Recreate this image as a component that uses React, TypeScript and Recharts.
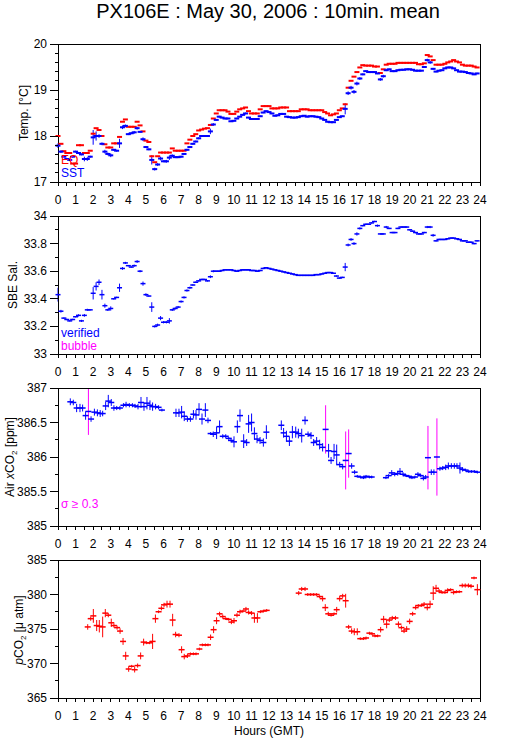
import React from "react";
import { ComposedChart, Scatter, XAxis, YAxis, ErrorBar } from "recharts";

const FONT = '"Liberation Sans", Arial, Helvetica, sans-serif';
const BLUE = "#0000ff";
const RED = "#ff0000";
const MAGENTA = "#ff00ff";

// 10 minute means, 00:00 .. 23:50 GMT (one row per hour)
const sst = [
  17.79, 17.66, 17.55, 17.5, 17.48, 17.55,
  17.66, 17.63, 17.6, 17.5, 17.5, 17.55,
  17.97, 18.0, 18.0, 17.83, 17.66, 17.61,
  17.58, 17.7, 17.68, 17.84, 18.19, 18.22,
  18.04, 18.06, 18.08, 18.17, 18.09, 17.93,
  17.76, 17.71, 17.48, 17.28, 17.38, 17.51,
  17.45, 17.45, 17.53, 17.57, 17.54, 17.54,
  17.55, 17.61, 17.7, 17.76, 17.83, 17.88,
  17.95, 18.0, 18.0, 18.0, 18.1, 18.25,
  18.35, 18.42, 18.4, 18.38, 18.38, 18.32,
  18.33, 18.38, 18.42, 18.46, 18.49, 18.4,
  18.37, 18.37, 18.37, 18.43, 18.51, 18.54,
  18.52, 18.49, 18.44, 18.45, 18.48, 18.48,
  18.42, 18.41, 18.4, 18.4, 18.41, 18.43,
  18.44, 18.42, 18.43, 18.43, 18.42, 18.41,
  18.38, 18.35, 18.31, 18.3, 18.3, 18.35,
  18.41, 18.43, 18.59, 18.93, 19.05, 18.96,
  19.14, 19.25, 19.34, 19.41, 19.39, 19.39,
  19.39, 19.36, 19.23, 19.3, 19.43, 19.45,
  19.41, 19.41, 19.43, 19.44, 19.44, 19.45,
  19.45, 19.44, 19.42, 19.42, 19.42, 19.5,
  19.65, 19.6, 19.46, 19.4, 19.42, 19.43,
  19.47, 19.49, 19.49, 19.47, 19.43, 19.4,
  19.4, 19.39, 19.37, 19.36, 19.34, 19.36,
];

const sstSd = [
  0.05, 0.03, 0.02, 0.02, 0.02, 0.02,
  0.02, 0.02, 0.02, 0.05, 0.04, 0.02,
  0.16, 0.1, 0.04, 0.03, 0.04, 0.03,
  0.04, 0.02, 0.02, 0.1, 0.04, 0.03,
  0.02, 0.02, 0.03, 0.03, 0.02, 0.04,
  0.02, 0.02, 0.1, 0.03, 0.03, 0.04,
  0.02, 0.03, 0.05, 0.03, 0.02, 0.02,
  0.02, 0.02, 0.02, 0.02, 0.02, 0.02,
  0.02, 0.02, 0.02, 0.02, 0.06, 0.03,
  0.02, 0.02, 0.015, 0.015, 0.015, 0.015,
  0.015, 0.015, 0.015, 0.02, 0.02, 0.015,
  0.015, 0.015, 0.015, 0.015, 0.015, 0.015,
  0.015, 0.015, 0.015, 0.015, 0.015, 0.015,
  0.015, 0.015, 0.015, 0.015, 0.015, 0.015,
  0.015, 0.015, 0.015, 0.015, 0.015, 0.015,
  0.015, 0.015, 0.015, 0.015, 0.015, 0.015,
  0.015, 0.015, 0.12, 0.04, 0.04, 0.04,
  0.04, 0.03, 0.02, 0.015, 0.015, 0.015,
  0.015, 0.015, 0.03, 0.03, 0.02, 0.015,
  0.015, 0.015, 0.015, 0.015, 0.015, 0.015,
  0.015, 0.015, 0.015, 0.015, 0.015, 0.02,
  0.03, 0.03, 0.02, 0.015, 0.015, 0.015,
  0.015, 0.015, 0.015, 0.015, 0.015, 0.015,
  0.015, 0.015, 0.015, 0.015, 0.015, 0.015,
];

const eqTemp = [
  18.0, 17.83, 17.67, 17.63, 17.63, 17.4,
  17.4, 17.8, 17.8, 17.63, 17.63, 17.68,
  18.05, 18.17, 18.13, 18.0, 17.82, 17.75,
  17.75, 17.84, 17.84, 17.98, 18.31, 18.36,
  18.2, 18.2, 18.2, 18.31, 18.23, 18.1,
  17.9, 17.87, 17.56, 17.43, 17.56, 17.64,
  17.64, 17.64, 17.64, 17.73, 17.68, 17.68,
  17.68, 17.68, 17.84, 17.92, 18.0, 18.04,
  18.12, 18.14, 18.16, 18.17, 18.24, 18.38,
  18.49, 18.56, 18.56, 18.56, 18.53, 18.48,
  18.48, 18.53, 18.58, 18.6, 18.62, 18.54,
  18.49, 18.49, 18.49, 18.58, 18.65, 18.65,
  18.65, 18.6, 18.6, 18.6, 18.62, 18.62,
  18.62, 18.54, 18.54, 18.54, 18.54, 18.58,
  18.58, 18.58, 18.56, 18.56, 18.56, 18.56,
  18.56, 18.52, 18.49, 18.45, 18.47, 18.49,
  18.56, 18.6, 18.69, 19.05, 19.2, 19.29,
  19.39, 19.49, 19.54, 19.53, 19.53, 19.53,
  19.51, 19.51, 19.37, 19.45, 19.55, 19.57,
  19.57, 19.57, 19.59, 19.59, 19.59, 19.59,
  19.59, 19.59, 19.59, 19.56, 19.56, 19.58,
  19.76, 19.73, 19.65, 19.55, 19.55, 19.55,
  19.57, 19.6, 19.62, 19.65, 19.62, 19.6,
  19.55, 19.53, 19.53, 19.53, 19.51, 19.49,
];

const salinity = [
  33.43, 33.31, 33.26, 33.25, 33.24, 33.25,
  33.27, 33.28, 33.24, 33.28, 33.32, 33.32,
  33.44, 33.49, 33.52, 33.43, 33.35, 33.32,
  33.33, 33.4, 33.41, 33.48, 33.62, 33.66,
  33.64, 33.63, 33.64, 33.67, 33.6, 33.51,
  33.43, 33.42, 33.34, 33.2, 33.21, 33.26,
  33.23, 33.23, 33.24, 33.32, 33.33, 33.34,
  33.38, 33.41, 33.46, 33.48, 33.5, 33.52,
  33.53, 33.54, 33.54, 33.53, 33.56, 33.6,
  33.6, 33.6, 33.605, 33.61, 33.61, 33.61,
  33.605, 33.6, 33.605, 33.61, 33.61, 33.61,
  33.605, 33.605, 33.6, 33.605, 33.62, 33.625,
  33.62, 33.615, 33.61, 33.605, 33.6, 33.595,
  33.59, 33.585, 33.58, 33.575, 33.57, 33.57,
  33.57, 33.57, 33.57, 33.57, 33.575, 33.575,
  33.58, 33.585, 33.59, 33.59, 33.585, 33.565,
  33.55, 33.555, 33.63, 33.79, 33.83, 33.8,
  33.87, 33.91, 33.93, 33.94, 33.94, 33.95,
  33.96, 33.93, 33.87, 33.87, 33.92, 33.91,
  33.88, 33.88, 33.91, 33.92, 33.92, 33.92,
  33.9, 33.89, 33.88, 33.87, 33.87, 33.88,
  33.92, 33.92, 33.86, 33.82, 33.83, 33.83,
  33.83, 33.835, 33.84, 33.84, 33.835, 33.83,
  33.82, 33.82, 33.81, 33.81, 33.8, 33.82,
];

const salinitySd = [
  0.05, 0.01, 0.005, 0.005, 0.005, 0.005,
  0.005, 0.008, 0.008, 0.01, 0.008, 0.005,
  0.045, 0.03, 0.02, 0.035, 0.015, 0.008,
  0.015, 0.005, 0.005, 0.03, 0.01, 0.008,
  0.005, 0.005, 0.008, 0.01, 0.008, 0.015,
  0.01, 0.005, 0.035, 0.008, 0.01, 0.015,
  0.008, 0.008, 0.02, 0.008, 0.008, 0.008,
  0.008, 0.008, 0.008, 0.008, 0.005, 0.005,
  0.005, 0.005, 0.005, 0.005, 0.01, 0.008,
  0.005, 0.005, 0.005, 0.005, 0.005, 0.005,
  0.005, 0.005, 0.005, 0.005, 0.005, 0.005,
  0.005, 0.005, 0.005, 0.005, 0.005, 0.005,
  0.005, 0.005, 0.005, 0.005, 0.005, 0.005,
  0.005, 0.005, 0.005, 0.005, 0.005, 0.005,
  0.005, 0.005, 0.005, 0.005, 0.005, 0.005,
  0.005, 0.005, 0.005, 0.005, 0.005, 0.005,
  0.005, 0.005, 0.03, 0.01, 0.01, 0.01,
  0.012, 0.008, 0.005, 0.005, 0.005, 0.005,
  0.005, 0.008, 0.005, 0.005, 0.008, 0.005,
  0.005, 0.005, 0.005, 0.005, 0.005, 0.005,
  0.005, 0.005, 0.005, 0.005, 0.005, 0.005,
  0.008, 0.008, 0.01, 0.005, 0.005, 0.005,
  0.005, 0.005, 0.005, 0.005, 0.005, 0.005,
  0.005, 0.005, 0.005, 0.005, 0.005, 0.005,
];

// atmospheric xCO2 samples
const airHours = [
  0.7, 0.87, 1.06, 1.25, 1.4, 1.57, 1.73, 1.88, 2.07, 2.24, 2.4, 2.54, 2.71,
  2.86, 3.03, 3.18, 3.34, 3.52, 3.72, 3.87, 4.06, 4.23, 4.38, 4.55, 4.72, 4.89,
  5.06, 5.23, 5.38, 5.55, 5.72, 5.91,
  6.71, 6.88, 7.03, 7.18, 7.36, 7.53, 7.7, 7.85, 8.02, 8.19, 8.38, 8.53, 8.68,
  8.83, 9.02, 9.19, 9.37, 9.54, 9.71, 9.84, 10.01, 10.2, 10.35, 10.56, 10.73,
  10.84, 11.01, 11.17, 11.32, 11.49, 11.68, 11.85,
  12.7, 12.83, 12.99, 13.16, 13.33, 13.52, 13.67, 13.86, 14.05, 14.22, 14.39,
  14.54, 14.71, 14.88, 15.05, 15.22, 15.39, 15.53, 15.7, 15.85, 16.02, 16.19,
  16.36, 16.53, 16.7, 16.87, 17.02, 17.21, 17.37, 17.52, 17.71, 17.84,
  18.65, 18.8, 18.98, 19.15, 19.32, 19.45, 19.62, 19.79, 19.96, 20.13, 20.3,
  20.47, 20.63, 20.78, 20.91, 21.04, 21.23, 21.38, 21.55, 21.72, 21.88, 22.05,
  22.2, 22.37, 22.54, 22.69, 22.86, 23.01, 23.18, 23.36, 23.51, 23.68, 23.85,
];
const airXco2 = [
  386.8, 386.79, 386.71, 386.71, 386.71, 386.6, 386.66, 386.55, 386.65, 386.64,
  386.63, 386.63, 386.74, 386.81, 386.79, 386.71, 386.71, 386.71, 386.75,
  386.76, 386.75, 386.75, 386.74, 386.73, 386.79, 386.73, 386.78, 386.75,
  386.73, 386.73, 386.72, 386.68,
  386.64, 386.64, 386.65, 386.59, 386.55, 386.55, 386.62, 386.61, 386.69,
  386.55, 386.68, 386.53, 386.34, 386.33, 386.35, 386.44, 386.3, 386.3,
  386.27, 386.24, 386.22, 386.44, 386.6, 386.23, 386.21, 386.48, 386.5,
  386.34, 386.26, 386.24, 386.21, 386.36,
  386.46, 386.35, 386.3, 386.23, 386.36, 386.36, 386.34, 386.31, 386.53,
  386.33, 386.31, 386.21, 386.23, 386.18, 386.14, 386.4, 386.09, 385.95,
  386.08, 386.03, 385.89, 385.86, 385.95, 386.05, 385.87, 385.78, 385.72,
  385.71, 385.7, 385.72, 385.71, 385.71,
  385.7, 385.73, 385.77, 385.75, 385.76, 385.79, 385.75, 385.73, 385.72,
  385.7, 385.71, 385.75, 385.73, 385.69, 385.71, 385.99, 385.78, 385.78,
  386.0, 385.83, 385.84, 385.85, 385.87, 385.87, 385.87, 385.87, 385.84,
  385.82, 385.81, 385.79, 385.79, 385.79, 385.78,
];
const airSd = [
  0.05, 0.04, 0.06, 0.06, 0.05, 0.06, 0.34, 0.04, 0.05, 0.05, 0.05, 0.04, 0.06,
  0.09, 0.05, 0.04, 0.03, 0.03, 0.03, 0.04, 0.03, 0.03, 0.03, 0.04, 0.08, 0.06,
  0.09, 0.07, 0.06, 0.04, 0.03, 0.02,
  0.06, 0.06, 0.09, 0.07, 0.04, 0.04, 0.06, 0.07, 0.09, 0.08, 0.1, 0.04, 0.02,
  0.04, 0.09, 0.09, 0.03, 0.03, 0.02, 0.03, 0.08, 0.09, 0.09, 0.1, 0.05, 0.13,
  0.13, 0.09, 0.06, 0.05, 0.06, 0.1,
  0.07, 0.07, 0.08, 0.07, 0.09, 0.08, 0.07, 0.1, 0.06, 0.04, 0.05, 0.05, 0.06,
  0.07, 0.06, 0.35, 0.1, 0.05, 0.11, 0.15, 0.04, 0.04, 0.42, 0.35, 0.04, 0.03,
  0.02, 0.02, 0.02, 0.02, 0.02, 0.02,
  0.02, 0.02, 0.04, 0.03, 0.03, 0.05, 0.03, 0.02, 0.02, 0.02, 0.02, 0.03, 0.02,
  0.03, 0.03, 0.46, 0.04, 0.04, 0.56, 0.03, 0.03, 0.04, 0.05, 0.04, 0.04, 0.04,
  0.08, 0.03, 0.02, 0.02, 0.02, 0.02, 0.02,
];

// seawater pCO2 samples
const pco2Hours = [
  1.69, 1.86, 2.01, 2.2, 2.35, 2.54, 2.69, 2.86, 3.03, 3.18, 3.36, 3.53, 3.7,
  3.85, 4.02, 4.19, 4.36, 4.53, 4.7, 4.87, 5.04, 5.21, 5.38, 5.54, 5.72, 5.88,
  6.03, 6.2, 6.37, 6.52, 6.69, 6.88, 7.03, 7.18, 7.36, 7.53, 7.7, 7.85, 8.04,
  8.21, 8.38, 8.53, 8.68, 8.85, 9.02, 9.19, 9.37, 9.54, 9.71, 9.86, 10.01,
  10.18, 10.35, 10.52, 10.69, 10.84, 11.01, 11.17, 11.34, 11.51, 11.68, 11.87,
  13.69, 13.86, 14.05, 14.2, 14.37, 14.54, 14.71, 14.88, 15.05, 15.2, 15.37,
  15.53, 15.7, 15.85, 16.02, 16.19, 16.36, 16.53, 16.7, 16.85, 17.02, 17.19,
  17.37, 17.52, 17.71, 17.86, 18.03, 18.18, 18.35, 18.52, 18.69, 18.84, 19.01,
  19.19, 19.36, 19.53, 19.68, 19.83, 20.0, 20.17, 20.34, 20.49, 20.66, 20.82,
  21.0, 21.16, 21.34, 21.5, 21.67, 21.84, 22.01, 22.16, 22.33, 22.5, 22.67,
  22.82, 22.99, 23.16, 23.34, 23.49, 23.66, 23.85,
];
const pco2 = [
  375.3, 376.5, 376.9, 375.5, 375.4, 375.3, 377.3, 377.0, 375.9, 375.5, 375.2,
  374.7, 373.2, 371.1, 369.2, 369.6, 369.1, 369.7, 371.1, 373.1, 373.0, 373.0,
  373.2, 376.5, 377.5, 378.0, 378.5, 378.6, 378.6, 376.3, 374.2, 374.1, 372.0,
  371.0, 371.1, 371.4, 371.4, 371.4, 372.1, 372.7, 372.7, 372.7, 373.8, 374.9,
  376.2, 377.2, 376.8, 376.5, 376.4, 376.0, 376.2, 377.0, 377.5, 377.6, 377.9,
  377.4, 377.3, 376.6, 376.6, 377.5, 377.6, 377.7,
  380.2, 380.8, 380.8, 380.0, 380.0, 380.0, 380.0, 379.7, 379.4, 378.1, 377.2,
  377.0, 377.2, 377.8, 379.4, 379.8, 379.1, 375.3, 374.7, 374.6, 374.6, 373.6,
  373.6, 373.7, 374.4, 374.3, 374.0, 374.0, 374.9, 376.4, 375.7, 376.3, 376.6,
  376.6, 375.7, 375.2, 374.7, 375.0, 376.1, 377.2, 378.1, 378.4, 378.4, 378.6,
  378.1, 378.6, 380.2, 380.9, 380.5, 380.3, 380.3, 380.6, 380.7, 380.3, 380.4,
  380.4, 381.3, 381.3, 381.3, 381.2, 382.4, 380.7,
];
const pco2Sd = [
  0.4, 0.3, 1.0, 0.8, 0.9, 1.5, 0.6, 0.3, 0.6, 0.3, 0.3, 0.4, 0.5, 0.6, 0.4,
  0.2, 0.4, 0.3, 0.5, 0.5, 0.2, 0.2, 1.1, 0.6, 0.2, 0.3, 0.3, 0.5, 0.5, 0.9,
  0.4, 0.3, 0.5, 0.4, 0.3, 0.2, 0.2, 0.2, 0.2, 0.2, 0.2, 0.2, 0.4, 0.5, 0.5,
  0.3, 0.3, 0.2, 0.2, 0.3, 0.4, 0.3, 0.3, 0.2, 0.3, 0.3, 0.3, 0.7, 0.7, 0.2,
  0.2, 0.2,
  0.3, 0.3, 0.3, 0.2, 0.2, 0.2, 0.2, 0.2, 0.4, 0.5, 0.3, 0.2, 0.2, 0.4, 0.4,
  0.3, 1.0, 0.3, 0.4, 0.5, 0.5, 0.2, 0.2, 0.2, 0.2, 0.2, 0.2, 0.2, 0.4, 0.5,
  0.6, 0.3, 0.3, 0.3, 0.4, 0.3, 0.3, 0.4, 0.4, 0.3, 0.3, 0.2, 0.2, 0.3, 0.4,
  0.5, 1.0, 0.5, 0.3, 0.2, 0.2, 0.3, 0.2, 0.3, 0.2, 0.2, 0.3, 0.3, 0.3, 0.3,
  0.2, 0.8,
];

const hourTicks = Array.from({ length: 49 }, (_, i) => i / 2);
const tempTicks = [17, 17.2, 17.4, 17.6, 17.8, 18, 18.2, 18.4, 18.6, 18.8, 19, 19.2, 19.4, 19.6, 19.8, 20];
const tempMajor = [17, 18, 19, 20];
const salTicks = [33, 33.1, 33.2, 33.3, 33.4, 33.5, 33.6, 33.7, 33.8, 33.9, 34];
const salMajor = [33, 33.2, 33.4, 33.6, 33.8, 34];
const airTicks = [385, 385.25, 385.5, 385.75, 386, 386.25, 386.5, 386.75, 387];
const airMajor = [385, 385.5, 386, 386.5, 387];
const pco2Ticks = [365, 367.5, 370, 372.5, 375, 377.5, 380, 382.5, 385];
const pco2Major = [365, 370, 375, 380, 385];

const tenMinRows = (vals: number[], sd?: number[]) =>
  vals.map((v, i) => ({ h: i / 6, v, e: sd ? sd[i] : 0 }));
const sampleRows = (hrs: number[], vals: number[], sd: number[]) =>
  hrs.map((h, i) => ({ h, v: vals[i], e: sd[i] }));

const sstRows = tenMinRows(sst, sstSd);
const eqRows = tenMinRows(eqTemp);
const salRows = tenMinRows(salinity, salinitySd);
const airAll = sampleRows(airHours, airXco2, airSd);
const airOk = airAll.filter((r) => r.e < 0.3);
const airHigh = airAll.filter((r) => r.e >= 0.3);
const pco2Rows = sampleRows(pco2Hours, pco2, pco2Sd);

const dash = (color: string, half: number, sw: number) => (p: any) =>
  p.cx == null ? (
    <g />
  ) : (
    <line x1={p.cx - half} x2={p.cx + half} y1={p.cy} y2={p.cy} stroke={color} strokeWidth={sw} />
  );

const PLOT_H = 138;
const TOP_PAD = 10;
const BOTTOM_PAD = 30;

function Panel({
  top,
  domain,
  ticks,
  major,
  children,
}: {
  top: number;
  domain: [number, number];
  ticks: number[];
  major: number[];
  children: React.ReactNode;
}) {
  const yLeft = (p: any) => {
    const v = p.payload.value;
    const big = major.includes(v);
    return (
      <g>
        <line x1={p.x} x2={p.x - (big ? 8 : 3)} y1={p.y} y2={p.y} stroke="#000" shapeRendering="crispEdges" />
        {big && (
          <text x={p.x - 11} y={p.y + 4} textAnchor="end" fontSize={12} fontFamily={FONT} fill="#000">
            {String(v)}
          </text>
        )}
      </g>
    );
  };
  const yRight = (p: any) => {
    const v = p.payload.value;
    const big = major.includes(v);
    return (
      <g>
        <line x1={p.x} x2={p.x + (big ? 8 : 3)} y1={p.y} y2={p.y} stroke="#000" shapeRendering="crispEdges" />
        {big && (
          <text x={p.x + 12} y={p.y + 4} textAnchor="start" fontSize={12} fontFamily={FONT} fill="#000">
            {String(v)}
          </text>
        )}
      </g>
    );
  };
  const xBottom = (p: any) => {
    const v = p.payload.value;
    return (
      <g>
        <line x1={p.x} x2={p.x} y1={p.y} y2={p.y + 4} stroke="#000" shapeRendering="crispEdges" />
        {Number.isInteger(v) && (
          <text x={p.x} y={p.y + 22} textAnchor="middle" fontSize={12} fontFamily={FONT} fill="#000">
            {String(v)}
          </text>
        )}
      </g>
    );
  };
  const xTop = (p: any) => (
    <line x1={p.x} x2={p.x} y1={p.y} y2={p.y - 4} stroke="#000" shapeRendering="crispEdges" />
  );
  const axisLine = { stroke: "#000", shapeRendering: "crispEdges" };
  return (
    <div style={{ position: "absolute", left: 0, top: top - TOP_PAD }}>
      <ComposedChart
        width={529}
        height={TOP_PAD + PLOT_H + BOTTOM_PAD}
        margin={{ top: 0, right: 0, bottom: 0, left: 0 }}
      >
        <XAxis
          xAxisId="b"
          type="number"
          dataKey="h"
          domain={[0, 24]}
          ticks={hourTicks}
          interval={0}
          orientation="bottom"
          height={BOTTOM_PAD}
          tickSize={0}
          tickMargin={0}
          tickLine={false}
          axisLine={axisLine}
          tick={xBottom}
        />
        <XAxis
          xAxisId="t"
          type="number"
          dataKey="h"
          domain={[0, 24]}
          ticks={hourTicks}
          interval={0}
          orientation="top"
          height={TOP_PAD}
          tickSize={0}
          tickMargin={0}
          tickLine={false}
          axisLine={axisLine}
          tick={xTop}
        />
        <YAxis
          yAxisId="l"
          type="number"
          dataKey="v"
          domain={domain}
          ticks={ticks}
          interval={0}
          orientation="left"
          width={58}
          tickSize={0}
          tickMargin={0}
          tickLine={false}
          axisLine={axisLine}
          tick={yLeft}
        />
        <YAxis
          yAxisId="r"
          type="number"
          dataKey="v"
          domain={domain}
          ticks={ticks}
          interval={0}
          orientation="right"
          width={49}
          tickSize={0}
          tickMargin={0}
          tickLine={false}
          axisLine={axisLine}
          tick={yRight}
        />
        {children}
      </ComposedChart>
    </div>
  );
}

const txt = { fontFamily: FONT, fontSize: 12 };

export default function App() {
  return (
    <div style={{ position: "absolute", left: 0, top: 0, width: 529, height: 739, background: "#fff" }}>
      <Panel top={44} domain={[17, 20]} ticks={tempTicks} major={tempMajor}>
        <Scatter data={eqRows} xAxisId="b" yAxisId="l" dataKey="v" shape={dash(RED, 2.5, 2)} isAnimationActive={false} />
        <Scatter data={sstRows} xAxisId="b" yAxisId="l" dataKey="v" shape={dash(BLUE, 2.5, 2)} isAnimationActive={false}>
          <ErrorBar dataKey="e" direction="y" width={0} stroke={BLUE} strokeWidth={1} isAnimationActive={false} />
        </Scatter>
      </Panel>
      <Panel top={216} domain={[33, 34]} ticks={salTicks} major={salMajor}>
        <Scatter data={salRows} xAxisId="b" yAxisId="l" dataKey="v" shape={dash(BLUE, 2.5, 1.5)} isAnimationActive={false}>
          <ErrorBar dataKey="e" direction="y" width={0} stroke={BLUE} strokeWidth={1} isAnimationActive={false} />
        </Scatter>
      </Panel>
      <Panel top={388} domain={[385, 387]} ticks={airTicks} major={airMajor}>
        <Scatter data={airOk} xAxisId="b" yAxisId="l" dataKey="v" shape={dash(BLUE, 3, 1.5)} isAnimationActive={false}>
          <ErrorBar dataKey="e" direction="y" width={0} stroke={BLUE} strokeWidth={1} isAnimationActive={false} />
        </Scatter>
        <Scatter data={airHigh} xAxisId="b" yAxisId="l" dataKey="v" shape={dash(BLUE, 3, 1.5)} isAnimationActive={false}>
          <ErrorBar dataKey="e" direction="y" width={0} stroke={MAGENTA} strokeWidth={1} isAnimationActive={false} />
        </Scatter>
      </Panel>
      <Panel top={560} domain={[365, 385]} ticks={pco2Ticks} major={pco2Major}>
        <Scatter data={pco2Rows} xAxisId="b" yAxisId="l" dataKey="v" shape={dash(RED, 3, 1.5)} isAnimationActive={false}>
          <ErrorBar dataKey="e" direction="y" width={0} stroke={RED} strokeWidth={1} isAnimationActive={false} />
        </Scatter>
      </Panel>
      <svg
        width={529}
        height={739}
        style={{ position: "absolute", left: 0, top: 0, pointerEvents: "none" }}
      >
        <text x={268} y={18} textAnchor="middle" fontFamily={FONT} fontSize={20} fill="#000">
          PX106E : May 30, 2006 : 10min. mean
        </text>
        <text {...txt} transform="translate(28,113) rotate(-90)" textAnchor="middle" fill="#000">
          Temp. [°C]
        </text>
        <text {...txt} transform="translate(17,285) rotate(-90)" textAnchor="middle" fill="#000">
          SBE Sal.
        </text>
        <text {...txt} transform="translate(14,457) rotate(-90)" textAnchor="middle" fill="#000">
          Air <tspan fontStyle="italic">x</tspan>CO<tspan fontSize={8} dy={3}>2</tspan>
          <tspan dy={-3}> [ppm]</tspan>
        </text>
        <text {...txt} transform="translate(23,630) rotate(-90)" textAnchor="middle" fill="#000">
          <tspan fontStyle="italic">p</tspan>CO<tspan fontSize={8} dy={3}>2</tspan>
          <tspan dy={-3}> [μ atm]</tspan>
        </text>
        <text {...txt} x={61} y={164} fill={RED}>EQ</text>
        <text {...txt} x={61} y={177} fill={BLUE}>SST</text>
        <text {...txt} x={61} y={337} fill={BLUE}>verified</text>
        <text {...txt} x={61} y={350} fill={MAGENTA}>bubble</text>
        <text {...txt} x={61} y={508} fill={MAGENTA}>σ ≥ 0.3</text>
        <text {...txt} x={269} y={735} textAnchor="middle" fill="#000">
          Hours (GMT)
        </text>
      </svg>
    </div>
  );
}
